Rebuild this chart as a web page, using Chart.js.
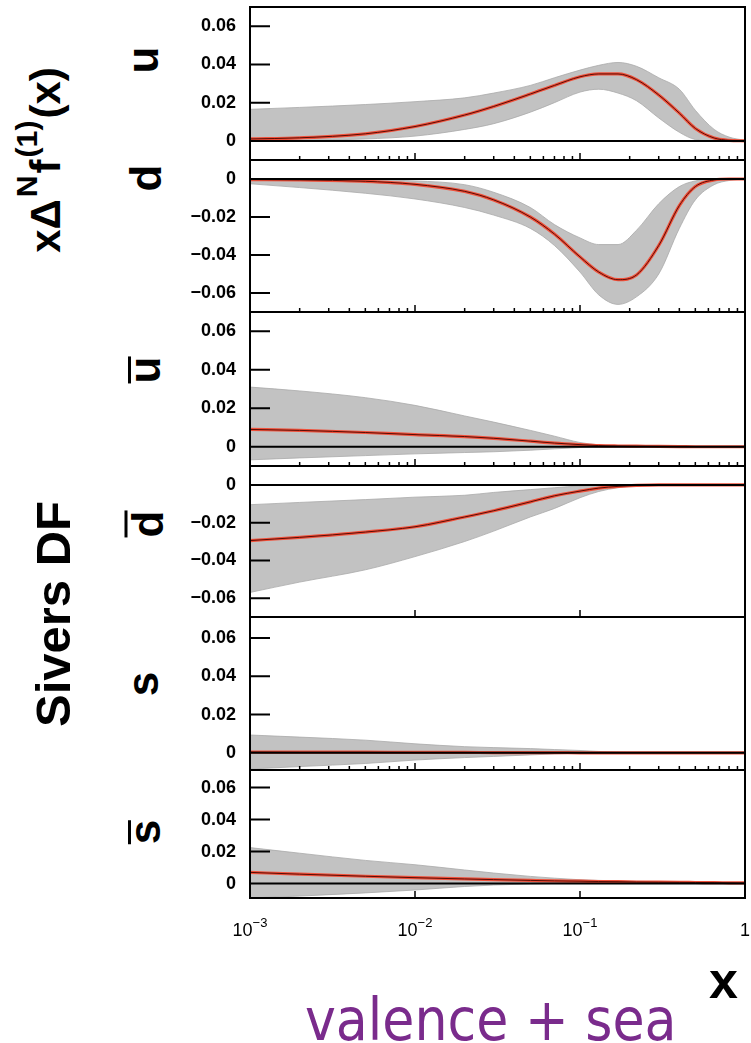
<!DOCTYPE html>
<html>
<head>
<meta charset="utf-8">
<script src="https://cdn.jsdelivr.net/npm/chart.js@4.4.0/dist/chart.umd.min.js"></script>
<style>
  html, body { margin: 0; padding: 0; background: #fff; }
  #page { position: relative; width: 751px; height: 1043px; overflow: hidden;
          font-family: 'Liberation Sans', Arial, Helvetica, sans-serif; }
  #page canvas { position: absolute; left: 0; }
  .rot { position: absolute; transform: translate(-50%, -50%) rotate(-90deg);
         white-space: nowrap; font-weight: bold; color: #000; line-height: 1; }
  .rot sup { font-size: 0.72em; vertical-align: 0.75em; line-height: 0; margin: 0 2px; }
  .q { font-size: 44px; }
  .bar { display: inline-block; border-top: 3px solid #000; line-height: 0.62em; }
  .bar.tall { line-height: 0.9em; }
  #xlab { position: absolute; left: 709px; top: 954px; font-size: 52px; font-weight: bold; line-height: 1; }
  #note { position: absolute; left: 305px; top: 991px; font-size: 58px; line-height: 1; color: #7a2b8c;
          font-family: 'DejaVu Sans Condensed', 'DejaVu Sans', sans-serif; font-stretch: condensed; white-space: nowrap; }
</style>
</head>
<body>
<div id="page">
  <div class="rot" style="left:46px; top:160px; font-size:42px;">x&Delta;<sup>N</sup>f<sup>(1)</sup>(x)</div>
  <div class="rot" style="left:53px; top:614px; font-size:49px;">Sivers DF</div>
  <div class="rot q" style="left:143px; top:60px;">u</div>
  <div class="rot q" style="left:146px; top:178px;">d</div>
  <div class="rot q" style="left:145px; top:370px;"><span class="bar">u</span></div>
  <div class="rot q" style="left:147px; top:524px;"><span class="bar tall">d</span></div>
  <div class="rot q" style="left:143px; top:684px;">s</div>
  <div class="rot q" style="left:145px; top:832px;"><span class="bar">s</span></div>
  <div id="xlab">x</div>
  <div id="note">valence + sea</div>
</div>
<script>
// x grid shared by all curves
const xs = [0.001, 0.002, 0.005, 0.01, 0.02, 0.03, 0.05, 0.07, 0.1, 0.13, 0.17, 0.22, 0.3, 0.4, 0.5, 0.65, 0.8, 1.0];

// u
const uMid = [0.001, 0.0016, 0.0037, 0.0075, 0.0135, 0.018, 0.0245, 0.029, 0.0335, 0.035, 0.035, 0.032, 0.024, 0.0145, 0.0065, 0.0015, 0.0003, 0];
const uUp  = [0.0165, 0.0175, 0.019, 0.0205, 0.0225, 0.025, 0.029, 0.033, 0.037, 0.0395, 0.041, 0.039, 0.033, 0.027, 0.016, 0.006, 0.002, 0.0003];
const uLow = [0, 0.0002, 0.001, 0.0025, 0.006, 0.009, 0.015, 0.02, 0.0255, 0.027, 0.025, 0.021, 0.012, 0.0045, 0.0007, 0, 0, 0];
// d
const dMid = [-0.0003, -0.0005, -0.0012, -0.0028, -0.0065, -0.011, -0.02, -0.029, -0.041, -0.049, -0.053, -0.0505, -0.035, -0.014, -0.004, -0.0005, 0, 0];
const dUp  = [0, 0, -0.0003, -0.001, -0.003, -0.007, -0.015, -0.024, -0.031, -0.0345, -0.0345, -0.027, -0.013, -0.004, -0.001, 0, 0, 0];
const dLow = [-0.0025, -0.0045, -0.0075, -0.0105, -0.015, -0.019, -0.026, -0.035, -0.049, -0.061, -0.066, -0.062, -0.05, -0.026, -0.011, -0.003, -0.0008, 0];
// u bar
const ubMid = [0.009, 0.0085, 0.0074, 0.0063, 0.0053, 0.0044, 0.0029, 0.0019, 0.0011, 0.0006, 0.0004, 0.0003, 0.0002, 0.0001, 0, 0, 0, 0];
const ubUp  = [0.031, 0.029, 0.0255, 0.0215, 0.016, 0.0128, 0.0085, 0.0055, 0.0022, 0.001, 0.0005, 0.0003, 0.0002, 0.0001, 0, 0, 0, 0];
const ubLow = [-0.0068, -0.0058, -0.0046, -0.0037, -0.003, -0.0026, -0.0018, -0.0011, -0.0004, -0.0001, 0, 0, 0, 0, 0, 0, 0, 0];
// d bar
const dbMid = [-0.0295, -0.0278, -0.025, -0.0222, -0.017, -0.0137, -0.009, -0.0058, -0.0033, -0.0017, -0.0008, -0.0003, 0, 0, 0, 0, 0, 0];
const dbUp  = [-0.0105, -0.0093, -0.0078, -0.0065, -0.0055, -0.004, -0.0025, -0.0015, -0.0006, -0.0003, -0.0001, 0, 0, 0, 0, 0, 0, 0];
const dbLow = [-0.057, -0.0515, -0.045, -0.038, -0.03, -0.0245, -0.017, -0.0125, -0.0068, -0.0035, -0.0015, -0.0005, 0, 0, 0, 0, 0, 0];
// s
const sMid = [0.0004, 0.0003, 0.0003, 0.0002, 0.0002, 0.0001, 0.0001, 0.0001, 0, 0, 0, 0, 0, 0, 0, 0, 0, 0];
const sUp  = [0.0093, 0.0082, 0.0066, 0.0047, 0.0032, 0.0027, 0.0022, 0.0017, 0.0012, 0.0007, 0.0003, 0.0001, 0, 0, 0, 0, 0, 0];
const sLow = [-0.0085, -0.0072, -0.0056, -0.0038, -0.0025, -0.0019, -0.0011, -0.0006, -0.0002, 0, 0, 0, 0, 0, 0, 0, 0, 0];
// s bar
const sbMid = [0.007, 0.0059, 0.0046, 0.0037, 0.0029, 0.0025, 0.002, 0.0017, 0.0015, 0.0013, 0.0012, 0.001, 0.0009, 0.0008, 0.0007, 0.0006, 0.0005, 0.0004];
const sbUp  = [0.0225, 0.019, 0.0145, 0.0118, 0.0085, 0.0066, 0.0045, 0.0034, 0.0024, 0.002, 0.0017, 0.0014, 0.0012, 0.001, 0.0009, 0.0008, 0.0007, 0.0006];
const sbLow = [-0.009, -0.0078, -0.0058, -0.004, -0.0018, -0.0009, -0.0002, 0.0001, 0.0003, 0.0004, 0.0004, 0.0004, 0.0004, 0.0003, 0.0003, 0.0002, 0.0002, 0.0002];

// ticks
const xMajorTicks = [0.001, 0.01, 0.1, 1];
const xLabelBase = ['10', '10', '10', '1'];
const xLabelExp  = ['\u22123', '\u22122', '\u22121', ''];
const xMinorTicks = [0.002, 0.003, 0.004, 0.005, 0.006, 0.007, 0.008, 0.009,
                     0.02, 0.03, 0.04, 0.05, 0.06, 0.07, 0.08, 0.09,
                     0.2, 0.3, 0.4, 0.5, 0.6, 0.7, 0.8, 0.9];
const yTicksPos = [0, 0.02, 0.04, 0.06];
const yTicksNeg = [0, -0.02, -0.04, -0.06];

const panels = [
  { mid: uMid,  up: uUp,  low: uLow,  min: -0.01,  max: 0.07,  yTicks: yTicksPos, top: 7,   bottom: 160, minor: true },
  { mid: dMid,  up: dUp,  low: dLow,  min: -0.07,  max: 0.01,  yTicks: yTicksNeg, top: 160, bottom: 312, minor: true },
  { mid: ubMid, up: ubUp, low: ubLow, min: -0.01,  max: 0.07,  yTicks: yTicksPos, top: 312, bottom: 466, minor: true },
  { mid: dbMid, up: dbUp, low: dbLow, min: -0.07,  max: 0.01,  yTicks: yTicksNeg, top: 466, bottom: 617, minor: false },
  { mid: sMid,  up: sUp,  low: sLow,  min: -0.009, max: 0.071, yTicks: yTicksPos, top: 617, bottom: 770, minor: true },
  { mid: sbMid, up: sbUp, low: sbLow, min: -0.009, max: 0.071, yTicks: yTicksPos, top: 770, bottom: 898, minor: false },
];

const PAD = 4;       // room round each frame so the stroke is not cut
const AXIS_H = 45;   // x tick label strip under the last panel
const FONT = "'Liberation Sans', Arial, Helvetica, sans-serif";

const pts = arr => xs.map((x, i) => ({ x: x, y: arr[i] }));

// frame, zero line and inward ticks, drawn over the bands like in the original
const framePlugin = {
  id: 'frame',
  afterDatasetsDraw(chart) {
    const { ctx, chartArea: a, scales: { x, y } } = chart;
    ctx.save();
    ctx.strokeStyle = '#000';
    ctx.lineWidth = 2;
    ctx.beginPath();
    const y0 = y.getPixelForValue(0);
    ctx.moveTo(a.left, y0); ctx.lineTo(a.right, y0);
    y.ticks.forEach(t => {
      const py = y.getPixelForValue(t.value);
      ctx.moveTo(a.left, py); ctx.lineTo(a.left + 20, py);
    });
    ctx.stroke();
    ctx.lineWidth = 1.5;
    ctx.beginPath();
    x.ticks.forEach(t => {
      const px = x.getPixelForValue(t.value);
      const len = t.major ? 7 : 4;
      ctx.moveTo(px, a.bottom); ctx.lineTo(px, a.bottom - len);
    });
    ctx.stroke();
    ctx.lineWidth = 2;
    ctx.strokeRect(a.left, a.top, a.right - a.left, a.bottom - a.top);
    ctx.restore();
  }
};

// 10^n labels with a real superscript under the bottom panel
const powerLabels = {
  id: 'powerLabels',
  afterDraw(chart) {
    const { ctx, chartArea: a, scales: { x } } = chart;
    ctx.save();
    ctx.fillStyle = '#000';
    ctx.textBaseline = 'alphabetic';
    ctx.textAlign = 'left';
    xMajorTicks.forEach((v, k) => {
      const px = x.getPixelForValue(v);
      ctx.font = '18px ' + FONT;
      const wb = ctx.measureText(xLabelBase[k]).width;
      ctx.font = '13px ' + FONT;
      const we = xLabelExp[k] ? ctx.measureText(xLabelExp[k]).width : 0;
      let left = px - (wb + we) / 2;
      if (left + wb + we > chart.width - 1) left = chart.width - 1 - wb - we;
      ctx.font = '18px ' + FONT;
      ctx.fillText(xLabelBase[k], left, a.bottom + 38);
      ctx.font = '13px ' + FONT;
      if (we) ctx.fillText(xLabelExp[k], left + wb, a.bottom + 29);
    });
    ctx.restore();
  }
};

const page = document.getElementById('page');

panels.forEach((p, i) => {
  const last = i === panels.length - 1;
  const h = (p.bottom - p.top) + PAD + (last ? AXIS_H : PAD);
  const cv = document.createElement('canvas');
  cv.width = 751; cv.height = h;
  cv.style.width = '751px'; cv.style.height = h + 'px';
  cv.style.top = (p.top - PAD) + 'px';
  page.appendChild(cv);

  const xTickVals = p.minor ? xMajorTicks.concat(xMinorTicks) : xMajorTicks;

  new Chart(cv, {
    type: 'line',
    data: {
      datasets: [
        { data: pts(p.low), borderColor: '#a9a9a9', borderWidth: 0.8, pointRadius: 0, fill: false, order: 3 },
        { data: pts(p.up), borderColor: '#a9a9a9', borderWidth: 0.8, pointRadius: 0, fill: '-1',
          backgroundColor: '#c2c2c2', order: 3 },
        { data: pts(p.mid), borderColor: '#f0503a', borderWidth: 3.2, pointRadius: 0, fill: false, order: 2 },
        { data: pts(p.mid), borderColor: '#5a0c04', borderWidth: 1, pointRadius: 0, fill: false, order: 1 },
      ]
    },
    options: {
      responsive: false,
      animation: false,
      devicePixelRatio: 1,
      layout: { autoPadding: false, padding: { top: PAD, bottom: last ? 0 : PAD, left: 0, right: 6 } },
      elements: { line: { cubicInterpolationMode: 'monotone' } },
      plugins: { legend: { display: false }, tooltip: { enabled: false } },
      scales: {
        x: {
          type: 'logarithmic',
          min: 0.001, max: 1,
          border: { display: false },
          grid: { display: false, drawTicks: false },
          afterBuildTicks: s => { s.ticks = xTickVals.map(v => ({ value: v, major: xMajorTicks.includes(v) })); },
          afterFit: s => {
            s.height = last ? AXIS_H : 0;
            s.paddingLeft = 0; s.paddingRight = 0;
          },
          ticks: { display: false }
        },
        y: {
          min: p.min, max: p.max,
          border: { display: false },
          grid: { display: false, drawTicks: false },
          afterBuildTicks: s => { s.ticks = p.yTicks.map(v => ({ value: v })); },
          afterFit: s => {
            s.width = 250;
            s.paddingTop = 0; s.paddingBottom = 0;
          },
          ticks: {
            padding: 14,
            color: '#000',
            font: { family: FONT, size: 18, weight: 'bold' },
            callback: v => v === 0 ? '0' : v.toFixed(2).replace('-', '\u2212')
          }
        }
      }
    },
    plugins: last ? [framePlugin, powerLabels] : [framePlugin]
  });
});
</script>
</body>
</html>
